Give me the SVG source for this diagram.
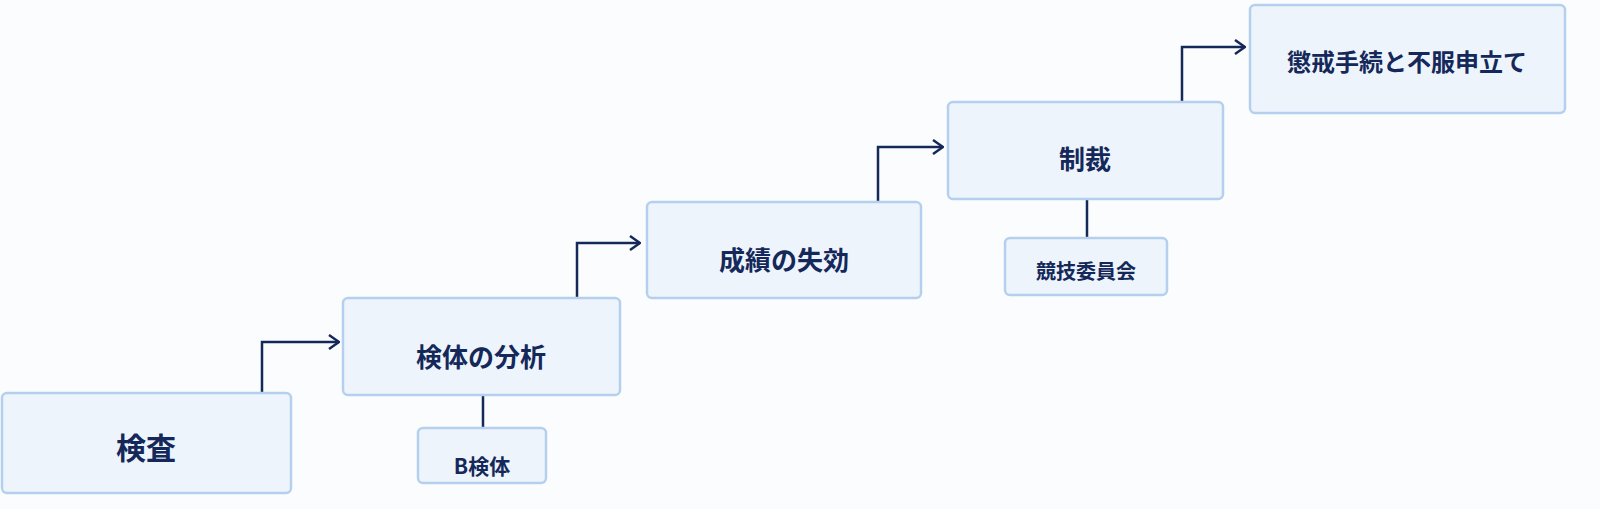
<svg xmlns="http://www.w3.org/2000/svg" width="1600" height="509" viewBox="0 0 1600 509">
<defs>
<style>
.n{fill:#eef4fb;stroke:#b5d0ee;stroke-width:2.5}
.t{font-family:"Noto Sans CJK JP","Noto Sans",sans-serif;font-weight:700;fill:#14285a;text-anchor:middle;dominant-baseline:central}
.c{fill:none;stroke:#14285a;stroke-width:2.5}
</style>
<marker id="a" viewBox="0 0 12 16" refX="11" refY="8" markerWidth="12" markerHeight="16" markerUnits="userSpaceOnUse" orient="auto"><path d="M1 1 L11 8 L1 15" fill="none" stroke="#14285a" stroke-width="2.5"/></marker>
</defs>
<rect width="1600" height="509" fill="#fbfcfd"/>
<g id="connectors">
<path class="c" d="M262 393 V342 H339" marker-end="url(#a)"/>
<path class="c" d="M577 298 V243 H640" marker-end="url(#a)"/>
<path class="c" d="M878 202 V147 H943" marker-end="url(#a)"/>
<path class="c" d="M1182 102 V47 H1245" marker-end="url(#a)"/>
<path class="c" d="M483 395 V428"/>
<path class="c" d="M1087 199 V238"/>
</g>
<g id="n1"><rect class="n" x="2" y="393" width="289" height="100" rx="5"/><text class="t" x="146" y="446" font-size="30">検査</text></g>
<g id="n2"><rect class="n" x="343" y="298" width="277" height="97" rx="5"/><text class="t" x="481" y="355" font-size="26">検体の分析</text></g>
<g id="n2s"><rect class="n" x="418" y="428" width="128" height="55" rx="5"/><text class="t" x="482" y="465" font-size="21">B検体</text></g>
<g id="n3"><rect class="n" x="647" y="202" width="274" height="96" rx="5"/><text class="t" x="784" y="258" font-size="26">成績の失効</text></g>
<g id="n4"><rect class="n" x="948" y="102" width="275" height="97" rx="5"/><text class="t" x="1085" y="157" font-size="26">制裁</text></g>
<g id="n4s"><rect class="n" x="1005" y="238" width="162" height="57" rx="5"/><text class="t" x="1086" y="270" font-size="20">競技委員会</text></g>
<g id="n5"><rect class="n" x="1250" y="5" width="315" height="108" rx="5"/><text class="t" x="1407" y="60" font-size="24">懲戒手続と不服申立て</text></g>
</svg>
